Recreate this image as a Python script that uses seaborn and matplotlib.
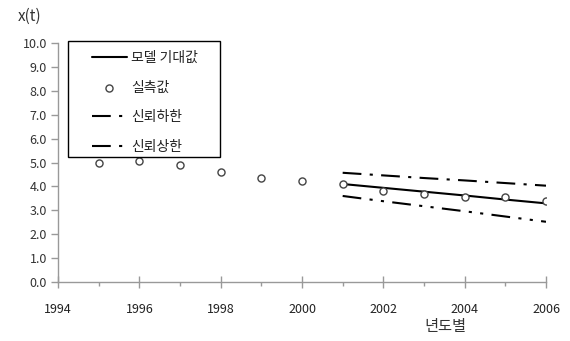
import matplotlib
matplotlib.use('Agg')
import matplotlib.pyplot as plt
from matplotlib.patches import Rectangle
import seaborn as sns
import numpy as np
import pandas as pd

obs_years = [1995, 1996, 1997, 1998, 1999, 2000, 2001, 2002, 2003, 2004, 2005, 2006]
obs_vals = [4.98, 5.06, 4.90, 4.60, 4.35, 4.23, 4.10, 3.82, 3.68, 3.57, 3.57, 3.40]

fit_years = [2001, 2002, 2003, 2004, 2005, 2006]
model_vals = [4.10, 3.94, 3.78, 3.62, 3.45, 3.29]
lower_vals = [3.60, 3.38, 3.17, 2.96, 2.74, 2.52]
upper_vals = [4.57, 4.46, 4.35, 4.25, 4.14, 4.03]

x_ticks = [1994, 1996, 1998, 2000, 2002, 2004, 2006]
y_ticks = [0, 1, 2, 3, 4, 5, 6, 7, 8, 9, 10]

sns.set_style('white')
plt.rcParams['font.family'] = ['Noto Sans CJK KR', 'DejaVu Sans']

df_obs = pd.DataFrame({'year': obs_years, 'value': obs_vals})
df_fit = pd.DataFrame({'year': fit_years, 'model': model_vals,
                       'lower': lower_vals, 'upper': upper_vals})

fig = plt.figure(figsize=(5.7, 3.41), dpi=100)
ax = fig.add_axes([58/570, 1-282/341, (546-58)/570, (282-43)/341])

sns.lineplot(data=df_fit, x='year', y='model', ax=ax, color='black',
             linewidth=1.5, label='모델 기대값')
sns.scatterplot(data=df_obs, x='year', y='value', ax=ax, marker='o',
                s=26, facecolor='white', edgecolor='#444444', linewidth=1.0,
                label='실측값', zorder=3)
sns.lineplot(data=df_fit, x='year', y='lower', ax=ax, color='black',
             linewidth=1.5, label='신뢰하한', dashes=False)
sns.lineplot(data=df_fit, x='year', y='upper', ax=ax, color='black',
             linewidth=1.5, label='신뢰상한', dashes=False)
lines = ax.get_lines()
lines[1].set_dashes((9, 4, 1.5, 4, 1.5, 4))
lines[2].set_dashes((9, 4, 1.5, 4))

ax.set_xlim(1994, 2006)
ax.set_ylim(0, 10)
ax.set_xticks(x_ticks)
ax.set_xticks(range(1994, 2007), minor=True)
ax.set_yticks(y_ticks)
ax.set_yticklabels(['%.1f' % v for v in y_ticks])
ax.set_xlabel('')
ax.set_ylabel('')

for s in ['top', 'right']:
    ax.spines[s].set_visible(False)
for s in ['left', 'bottom']:
    ax.spines[s].set_color('#999999')
    ax.spines[s].set_linewidth(1.0)

ax.tick_params(axis='y', which='major', left=True, length=5, width=1,
               color='#999999', labelsize=9, labelcolor='#333333', pad=3)
ax.tick_params(axis='x', which='major', bottom=True, direction='inout',
               length=8, width=1, color='#999999', labelsize=9,
               labelcolor='#222222', pad=11)
ax.tick_params(axis='x', which='minor', bottom=True, direction='out',
               length=3, width=1, color='#999999')

fig.text(18/570, 1-16/341, 'x(t)', fontsize=11, color='#333333',
         va='center', ha='left')
fig.text(445/570, 1-327/341, '년도별', fontsize=11, color='#333333',
         va='center', ha='center')

# legend box
fig.patches.append(Rectangle((68/570, 1-157/341), (220-68)/570, (157-41)/341,
                             transform=fig.transFigure, fill=False,
                             edgecolor='black', linewidth=1.0))
leg = ax.legend(loc='upper left', bbox_to_anchor=(92/570, 1-51/341),
                bbox_transform=fig.transFigure, borderaxespad=0,
                fontsize=10, handlelength=2.5, labelspacing=1.12,
                handletextpad=0.3, borderpad=0, frameon=False)
for t in leg.get_texts():
    t.set_color('#222222')

fig.savefig('out.png', dpi=100)
